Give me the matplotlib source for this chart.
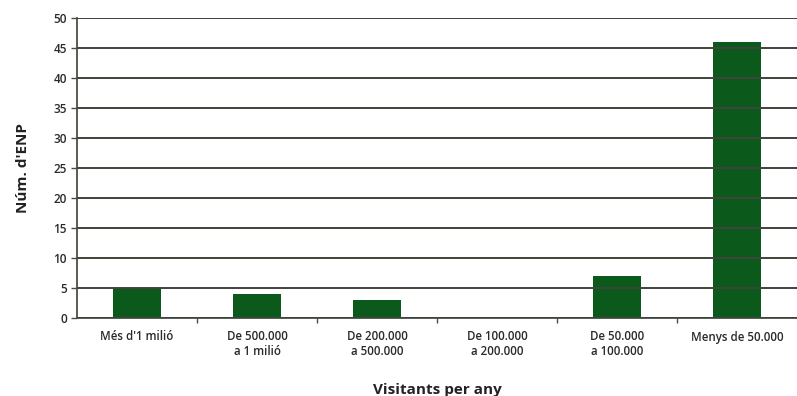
import matplotlib
matplotlib.use("Agg")
import matplotlib.pyplot as plt
import numpy as np

categories = ["Més d'1 milió", "De 500.000\na 1 milió", "De 200.000\na 500.000",
              "De 100.000\na 200.000", "De 50.000\na 100.000", "Menys de 50.000"]
counts = [5, 4, 3, 0, 7, 46]
y_ticks = [0, 5, 10, 15, 20, 25, 30, 35, 40, 45, 50]

plt.rcParams['font.family'] = ['Open Sans', 'DejaVu Sans']

fig = plt.figure(figsize=(7.97, 3.96), dpi=100)
ax = fig.add_axes([77 / 797, 1 - 318 / 396, 1 - 77 / 797, 300 / 396])

x = np.arange(len(categories))
ax.bar(x, counts, width=0.4, color="#0b5a1c", zorder=1)

ax.set_xlim(-0.5, len(categories) - 0.5)
ax.set_ylim(0, 50)
ax.set_yticks(y_ticks)
ax.set_yticklabels([str(v) for v in y_ticks], fontsize=8.5, fontweight="semibold", color="#2a2a2a")

# category labels centred under bars, tick marks on the slot boundaries
ax.set_xticks(x)
ax.set_xticklabels(categories, fontsize=8.3, fontweight="semibold", color="#2a2a2a",
                   linespacing=1.15)
ax.tick_params(axis="x", which="major", length=0, pad=9)
ax.set_xticks(np.arange(0.5, len(categories) - 0.5, 1.0), minor=True)
ax.tick_params(axis="x", which="minor", length=3.5, width=1.0, color="#4a4f44", direction="out")
ax.tick_params(axis="y", length=4.3, width=1.0, color="#4a4f44", pad=3)

ax.yaxis.grid(True, color="#3f443a", linewidth=1.4, zorder=2)
ax.set_axisbelow(False)

for side in ("top", "right"):
    ax.spines[side].set_visible(False)
for side in ("left", "bottom"):
    ax.spines[side].set_color("#4a4f44")
    ax.spines[side].set_linewidth(1.3)

ax.set_ylabel("Núm. d'ENP", fontsize=11, fontweight="bold", color="#222222", labelpad=17)
ax.set_xlabel("Visitants per any", fontsize=11, fontweight="bold", color="#222222", labelpad=18)

fig.savefig("out.png", dpi=100)
